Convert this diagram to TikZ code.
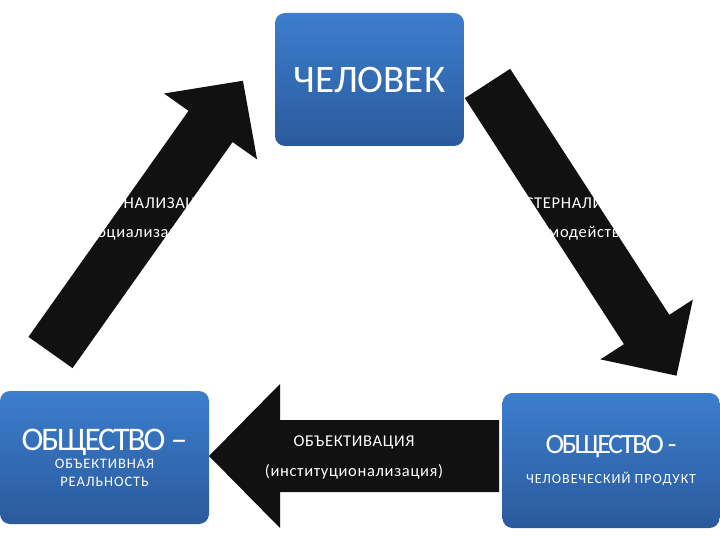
\documentclass[tikz,border=0pt]{standalone}
\usepackage{fontspec}
\setmainfont{Carlito}
\usetikzlibrary{positioning}

\definecolor{boxtop}{RGB}{60,126,205}
\definecolor{boxbot}{RGB}{42,90,156}
\definecolor{arrowblack}{RGB}{17,17,17}

\tikzset{
  box/.style={rounded corners=10pt, top color=boxtop, bottom color=boxbot, text=white, align=center, inner sep=0pt},
  arrowtext/.style={text=white, font={\fontsize{16.5}{18}\selectfont\addfontfeature{LetterSpace=4}}, inner sep=0pt, anchor=base},
  blockarrow/.style={fill=arrowblack},
}

\begin{document}
\begin{tikzpicture}[x=1pt, y=-1pt]
\useasboundingbox (0,0) rectangle (720,540);
\fill[white] (0,0) rectangle (720,540);

% block arrows
\fill[blockarrow, shift={(50.5,352.5)}, rotate=54.7]
  (0,-27) -- (277,-27) -- (277,-57) -- (333,0) -- (277,57) -- (277,27) -- (0,27) -- cycle;
\fill[blockarrow, shift={(487.5,83.5)}, rotate=-57.1]
  (0,-27) -- (293,-27) -- (293,-55) -- (348,0) -- (293,55) -- (293,27) -- (0,27) -- cycle;
\fill[blockarrow, shift={(499,456)}, rotate=180]
  (0,-36) -- (219,-36) -- (219,-72) -- (290,0) -- (219,72) -- (219,36) -- (0,36) -- cycle;

% boxes
\node [box, minimum width=189pt, minimum height=133pt] (chel) at (369.5,79.5)
  {\fontsize{39}{40}\selectfont ЧЕЛОВЕК};
\node [box, minimum width=209pt, minimum height=133pt, font={\fontsize{14.5}{17.5}\selectfont\addfontfeature{LetterSpace=6}}] (objreal) at (104.5,457.5)
  {\fontsize{33}{36}\selectfont\addfontfeature{LetterSpace=-6}ОБЩЕСТВО –\\[1pt]ОБЪЕКТИВНАЯ\\РЕАЛЬНОСТЬ};
\node [box, minimum width=217pt, minimum height=135pt, font={\fontsize{14}{30}\selectfont\addfontfeature{LetterSpace=7}}] (prod) at (611,460.5)
  {\fontsize{28}{30}\selectfont\addfontfeature{LetterSpace=-8}ОБЩЕСТВО -\\ЧЕЛОВЕЧЕСКИЙ ПРОДУКТ};

% texts on the arrows
\node [arrowtext] (intern) at (146,208) {ИНТЕРНАЛИЗАЦИЯ};
\node [arrowtext] (soc) at (143,237) {(социализация)};
\node [arrowtext] (extern) at (580,208) {ЭКСТЕРНАЛИЗАЦИЯ};
\node [arrowtext] (vzaim) at (576,237) {(взаимодействие)};
\node [arrowtext] (objekt) at (354,446) {ОБЪЕКТИВАЦИЯ};
\node [arrowtext] (inst) at (354,476) {(институционализация)};
\end{tikzpicture}
\end{document}
